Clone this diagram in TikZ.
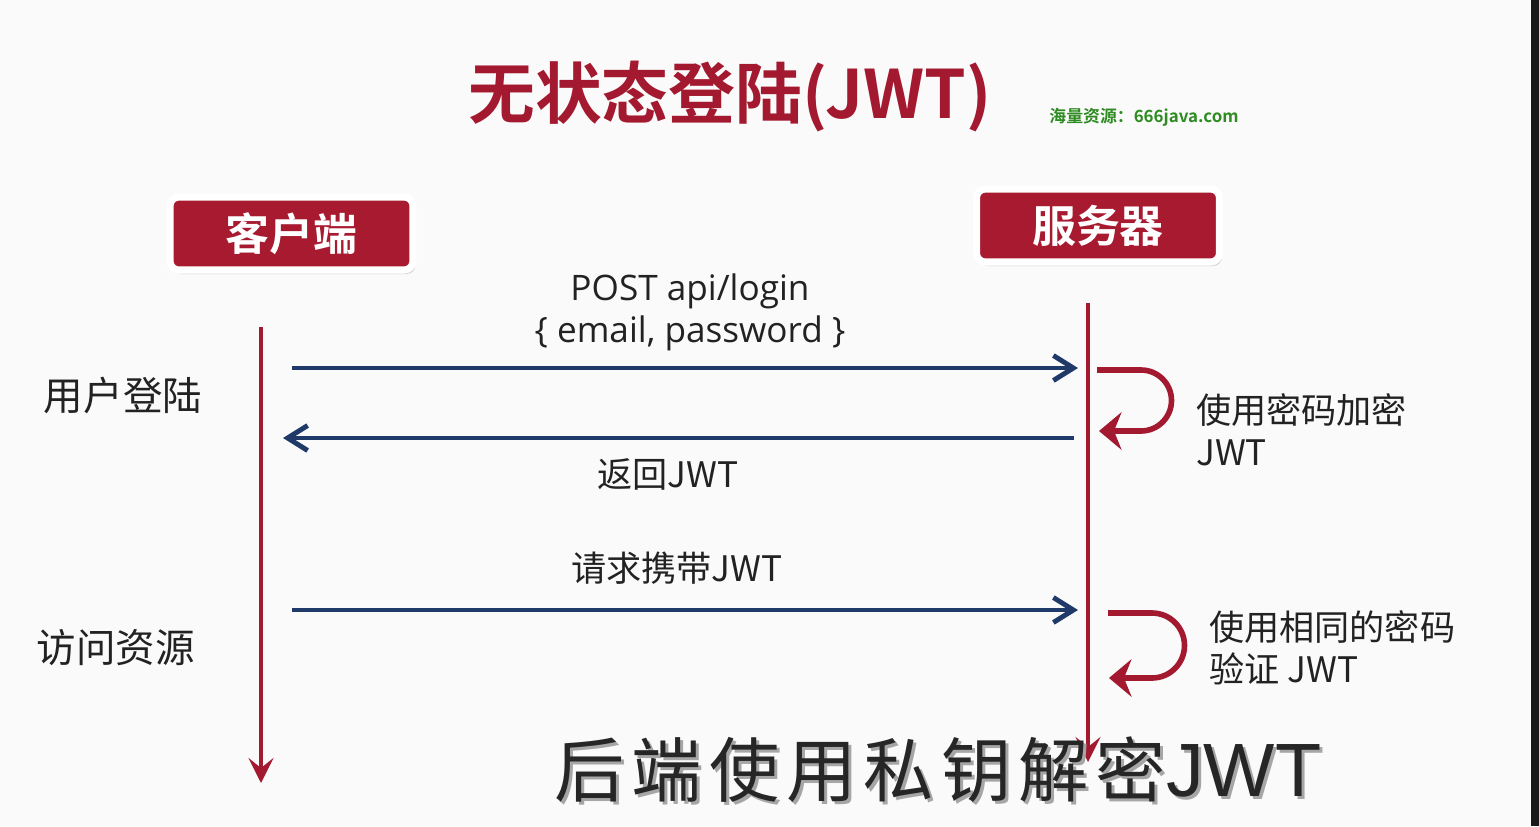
\documentclass[tikz,border=0pt]{standalone}
\usepackage{fontspec}
\setmainfont{Open Sans}
\newfontfamily\cjk{Noto Sans CJK SC}
\newfontfamily\cjkbold{Noto Sans CJK SC Bold}
\newfontfamily\cjkwide[LetterSpace=10]{Noto Sans CJK SC}
\newfontfamily\capsans{Liberation Sans}
\usetikzlibrary{positioning, arrows.meta, shadows}

\definecolor{jwtred}{HTML}{A3192F}
\definecolor{boxred}{HTML}{A81A30}
\definecolor{navyblue}{HTML}{1F3A68}
\definecolor{markgreen}{HTML}{2E8B22}
\definecolor{subgray}{HTML}{262626}
\definecolor{inkgray}{HTML}{222222}

\newcommand{\captext}{\cjkwide 后端使用私钥解密\capsans\fontsize{43}{46}\selectfont JWT}

\begin{document}
\begin{tikzpicture}[x=0.02cm, y=-0.02cm,
    actor/.style={fill=boxred, draw=white, line width=4pt, rounded corners=5pt,
      minimum width=4.86cm, minimum height=1.46cm, text=white,
      font=\cjkbold\fontsize{25}{30}\selectfont,
      drop shadow={shadow xshift=0.5mm, shadow yshift=-0.8mm, opacity=0.3}},
    lifeline/.style={draw=jwtred, line width=2.3pt, -{Stealth[length=5mm, width=5mm, inset=2mm]}},
    msg/.style={draw=navyblue, line width=2.8pt, -{Straight Barb[length=4mm, width=5mm]}},
    loopline/.style={draw=jwtred, line width=3.2pt, -{Stealth[length=4.5mm, width=7.5mm, inset=1.5mm]}},
    label/.style={text=inkgray, font=\cjk\fontsize{20}{24}\selectfont, align=left},
    sidelabel/.style={text=inkgray, font=\cjk\fontsize{22.5}{27}\selectfont}]

    % page
    \useasboundingbox (0,0) rectangle (1539,826);
    \fill[white!98!black] (0,0) rectangle (1539,826);
    \fill[black!90] (1531,0) rectangle (1539,826);

    % heading
    \node[text=jwtred, font=\cjkbold\fontsize{38}{44}\selectfont] (title) at (730,97) {无状态登陆(JWT)};
    \node[text=markgreen, font=\cjkbold\fontsize{9.6}{11}\selectfont] (mark) at (1144,117) {海量资源：666java.com};

    % actors
    \node[actor] (client) at (291.5,233.5) {客户端};
    \node[actor] (server) at (1098,225.5) {服务器};

    % lifelines
    \coordinate (client top) at (261,327);
    \coordinate (client end) at (261,783);
    \coordinate (server top) at (1088,303);
    \coordinate (server end) at (1088,762);
    \draw[lifeline] (client top) -- (client end);
    \draw[lifeline] (server top) -- (server end);

    % messages
    \coordinate (login from) at (292,368);
    \coordinate (login to) at (1078,368);
    \coordinate (reply from) at (1074,438);
    \coordinate (reply to) at (283,438);
    \coordinate (req from) at (292,610);
    \coordinate (req to) at (1078,610);
    \draw[msg] (login from) -- (login to);
    \draw[msg] (reply from) -- (reply to);
    \draw[msg] (req from) -- (req to);

    \node[label, font=\fontsize{20}{24}\selectfont, align=center] (loginlbl) at (690,312) {POST api/login\\\{ email, password \}};
    \node[label] (replylbl) at (668,474) {返回JWT};
    \node[label] (reqlbl) at (677,568) {请求携带JWT};

    % self calls on the server
    \coordinate (sign from) at (1097,370);
    \coordinate (sign to) at (1099,431);
    \draw[loopline] (sign from) -- (1141,370) arc[start angle=90, end angle=-90, radius=0.61cm] -- (sign to);
    \coordinate (check from) at (1108,613);
    \coordinate (check to) at (1109,678);
    \draw[loopline] (check from) -- (1152,613) arc[start angle=90, end angle=-90, radius=0.65cm] -- (check to);

    \node[label, anchor=west] (signlbl) at (1190,430) {使用密码加密\\JWT};
    \node[label, anchor=west] (checklbl) at (1203,648) {使用相同的密码\\验证 JWT};

    % phases
    \node[sidelabel] (loginphase) at (123,395) {用户登陆};
    \node[sidelabel] (accessphase) at (116,648) {访问资源};

    % caption
    \node[text=black!35, font=\fontsize{40}{46}\selectfont] (captionshade) at (941,773) {\captext};
    \node[text=subgray, font=\fontsize{40}{46}\selectfont] (caption) at (938,770) {\captext};
\end{tikzpicture}
\end{document}
